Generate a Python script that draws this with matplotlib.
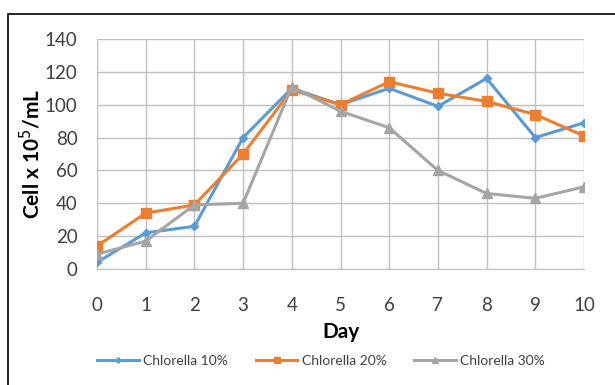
import matplotlib
matplotlib.use("Agg")
import matplotlib.pyplot as plt
from matplotlib.patches import Rectangle

days = [0, 1, 2, 3, 4, 5, 6, 7, 8, 9, 10]
chl10 = [4, 22, 26, 80, 110, 100, 110, 99, 116, 80, 89]
chl20 = [14, 34, 39, 70, 109, 100, 114, 107, 102, 94, 81]
chl30 = [9, 17, 39, 40, 111, 96, 86, 60, 46, 43, 50]
labels = ["Chlorella 10%", "Chlorella 20%", "Chlorella 30%"]
yticks = [0, 20, 40, 60, 80, 100, 120, 140]

plt.rcParams['font.family'] = ['Lato', 'DejaVu Sans']

fig = plt.figure(figsize=(6.15, 3.85), dpi=100)
fig.patches.append(Rectangle((8/615, -0.01), 1.0, 1 - 14/385 + 0.01,
                             transform=fig.transFigure, fill=False,
                             edgecolor='black', linewidth=1.2))
ax = fig.add_axes([97/615, 1 - 269/385, (584 - 97)/615, (269 - 39)/385])

ax.plot(days, chl10, color='#5B9BD5', marker='D', markersize=4, linewidth=2.2, label=labels[0])
ax.plot(days, chl20, color='#ED7D31', marker='s', markersize=6.5, linewidth=2.2, label=labels[1])
ax.plot(days, chl30, color='#A5A5A5', marker='^', markersize=6.5, linewidth=2.2, label=labels[2])

ax.set_xlim(0, 10)
ax.set_ylim(0, 140)
ax.set_xticks(days)
ax.set_yticks(yticks)
ax.grid(True, color='#BFBFBF', linewidth=1.0)
ax.set_axisbelow(True)
for s in ['top', 'right', 'left']:
    ax.spines[s].set_visible(False)
ax.spines['bottom'].set_color('#BFBFBF')
ax.tick_params(axis='both', length=0, labelsize=13.5, colors='#404040')
ax.tick_params(axis='y', pad=14)
ax.tick_params(axis='x', pad=20)

ax.set_xlabel('Day', fontsize=15, fontweight='bold', labelpad=6)
ax.set_ylabel('Cell x 10$^{5}$/mL', fontsize=15, fontweight='bold')
ax.yaxis.set_label_coords(-0.11, 0.5)

ax.legend(loc='upper center', bbox_to_anchor=(0.46, -0.32), ncol=3, frameon=False,
          fontsize=10, handlelength=3.0, columnspacing=2.0, labelcolor='#404040',
          markerscale=0.7, handletextpad=0.3)

fig.savefig('out.png', dpi=100)
